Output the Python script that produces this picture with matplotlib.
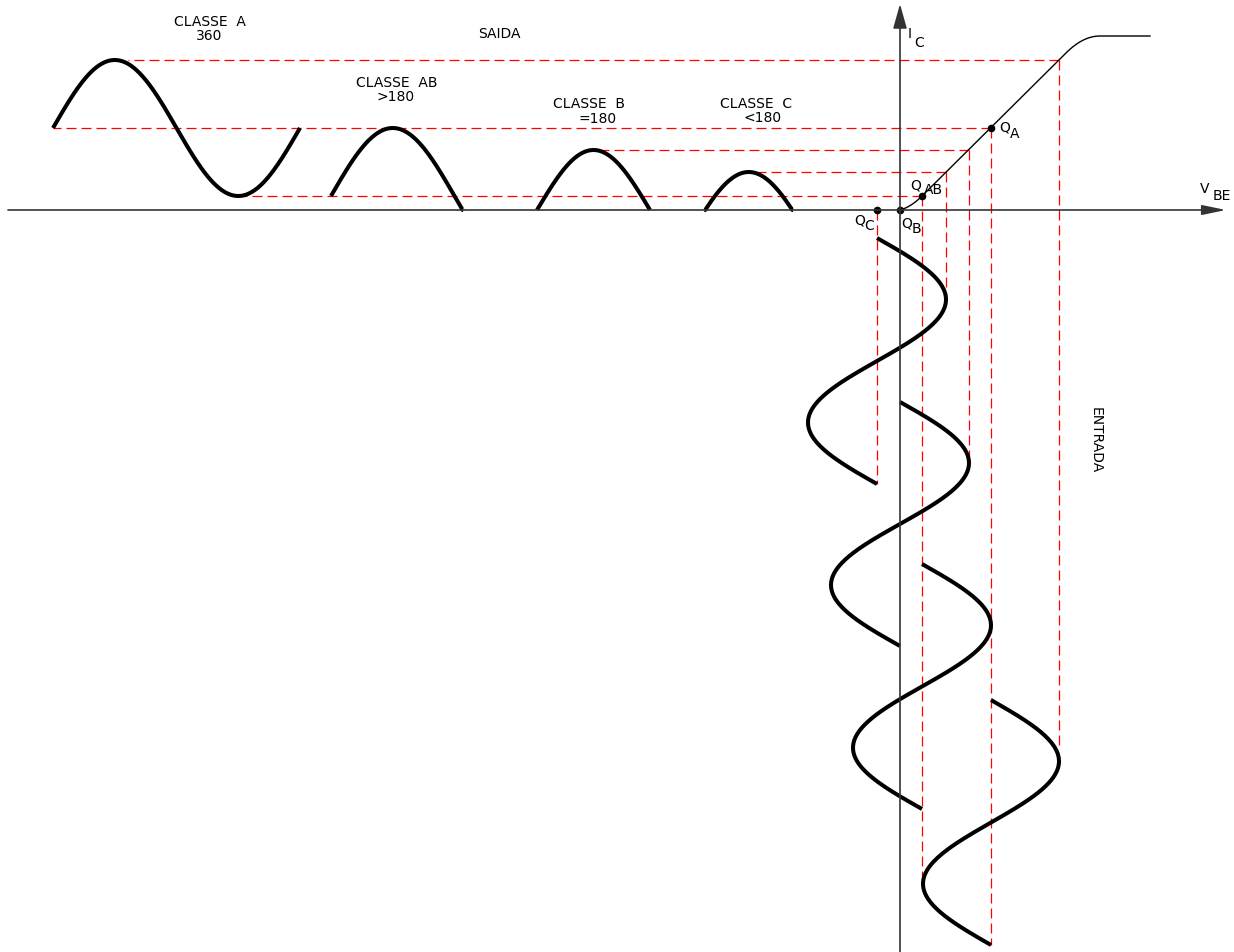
"""
Classes de amplificador (A, AB, B, C): curva I_C x V_BE com entrada e saida.
Origem no cruzamento dos eixos; unidades ~ pixel do desenho original.
"""
import matplotlib
matplotlib.use("Agg")
import matplotlib.pyplot as plt
import numpy as np

# --- curva de transferencia (pontos de controle) ---
joelho_baixo_vbe = [0, 11, 22]
joelho_baixo_ic = [0, 3, 14]
reta_vbe = [22, 166]
reta_ic = [14, 157]
joelho_alto_vbe = [166, 183, 200]
joelho_alto_ic = [157, 174, 174]
saturacao_vbe = [200, 250]
saturacao_ic = [174, 174]

# --- pontos quiescentes ---
q_nomes = ["C", "B", "AB", "A"]
q_vbe = [-23, 0, 22, 91]
q_ic = [0, 0, 14, 82]

# --- sinais de entrada (verticais, tempo para baixo) ---
entrada_centro = [-23, 0, 22, 91]
entrada_amp = [69, 69, 69, 68]
entrada_inicio = [-28, -192, -354, -490]
entrada_periodo = [246, 244, 245, 245]

# --- sinais de saida (horizontais) ---
saida_centro = [82, 14, 0, -23]
saida_amp = [68, 68, 60, 61]
saida_fase0 = [-847, -569, -363, -209]
saida_periodo = [247, 247, 226, 231]
saida_x_ini = [-847, -569, -363, -196]
saida_x_fim = [-600, -436, -250, -107]

# --- linhas de projecao (tracejado vermelho) ---
proj_h_ic = [150, 82, 60, 38, 14]
proj_h_de = [159, 91, 69, 46, 22]
proj_h_ate = [-772, -847, -307, -147, -660]
proj_v_vbe = [159, 91, 69, 46, 22, -23]
proj_v_de = [150, 82, 60, 38, 14, 0]
proj_v_ate = [-540, -735, -246, -89, -666, -274]

# --- textos ---
classes_titulo = ["CLASSE  A", "CLASSE  AB", "CLASSE  B", "CLASSE  C"]
classes_titulo_x = [-690, -503, -311, -144]
classes_titulo_y = [189, 128, 107, 107]
classes_angulo = ["360", ">180", "=180", "<180"]
classes_angulo_x = [-691, -504, -302, -137]
classes_angulo_y = [175, 114, 92, 93]


def bezier(xs, ys, n=40):
    t = np.linspace(0, 1, n)
    bx = (1 - t) ** 2 * xs[0] + 2 * (1 - t) * t * xs[1] + t ** 2 * xs[2]
    by = (1 - t) ** 2 * ys[0] + 2 * (1 - t) * t * ys[1] + t ** 2 * ys[2]
    return bx, by


fig = plt.figure(figsize=(12.34, 9.53), dpi=100)
ax = fig.add_axes([0, 0, 1, 1])
ax.set_xlim(-900, 334)
ax.set_ylim(-742, 211)
ax.axis("off")

cor_eixo = "#333333"
tracejado = dict(color="#ff0000", lw=0.9, dashes=(8.0, 4.0))
onda = dict(color="black", lw=2.9, solid_capstyle="butt")

# eixos com setas
ax.annotate("", xy=(326, 0), xytext=(-892, 0),
            arrowprops=dict(arrowstyle="-|>,head_length=1.45,head_width=0.3",
                            color=cor_eixo, lw=1.2, shrinkA=0, shrinkB=0))
ax.annotate("", xy=(0, 206), xytext=(0, -742),
            arrowprops=dict(arrowstyle="-|>,head_length=1.5,head_width=0.42",
                            color=cor_eixo, lw=1.2, shrinkA=0, shrinkB=0))

# projecoes
for ic, x0, x1 in zip(proj_h_ic, proj_h_de, proj_h_ate):
    ax.plot([x0, x1], [ic, ic], **tracejado)
for vbe, y0, y1 in zip(proj_v_vbe, proj_v_de, proj_v_ate):
    ax.plot([vbe, vbe], [y0, y1], **tracejado)

# curva de transferencia
bx1, by1 = bezier(joelho_baixo_vbe, joelho_baixo_ic)
bx2, by2 = bezier(joelho_alto_vbe, joelho_alto_ic)
cx = np.concatenate([bx1, reta_vbe, bx2, saturacao_vbe])
cy = np.concatenate([by1, reta_ic, by2, saturacao_ic])
ax.plot(cx, cy, color="black", lw=1.0)

# entradas
for c, a, y0, p in zip(entrada_centro, entrada_amp, entrada_inicio, entrada_periodo):
    y = np.linspace(y0, y0 - p, 300)
    x = c + a * np.sin(2 * np.pi * (y0 - y) / p)
    ax.plot(x, y, **onda)

# saidas (corte abaixo do eixo)
for c, a, f0, p, xi, xf in zip(saida_centro, saida_amp, saida_fase0,
                               saida_periodo, saida_x_ini, saida_x_fim):
    x = np.linspace(xi, xf, 300)
    y = c + a * np.sin(2 * np.pi * (x - f0) / p)
    y = np.where(y < -1.5, np.nan, np.maximum(y, 0))
    ax.plot(x, y, **onda)

# pontos Q
ax.plot(q_vbe, q_ic, "o", color="black", ms=4.5)

fonte = dict(fontsize=10, family="DejaVu Sans", color="black",
             ha="center", va="center")
for t, x, y in zip(classes_titulo, classes_titulo_x, classes_titulo_y):
    ax.text(x, y, t, **fonte)
for t, x, y in zip(classes_angulo, classes_angulo_x, classes_angulo_y):
    ax.text(x, y, t, **fonte)
ax.text(-401, 177, "SAIDA", **fonte)
ax.text(196, -229, "ENTRADA", rotation=-90, **fonte)

# rotulos com indice
ax.text(10, 177, "I", **fonte)
ax.text(19, 168, "C", **fonte)
ax.text(305, 22, "V", **fonte)
ax.text(322, 15, "BE", **fonte)
ax.text(105, 83, "Q", **fonte)
ax.text(115, 77, "A", **fonte)
ax.text(16, 25, "Q", **fonte)
ax.text(33, 21, "AB", **fonte)
ax.text(-40, -10, "Q", **fonte)
ax.text(-31, -15, "C", **fonte)
ax.text(7, -13, "Q", **fonte)
ax.text(16, -18, "B", **fonte)

fig.savefig("out.png", dpi=100)
plt.close(fig)
